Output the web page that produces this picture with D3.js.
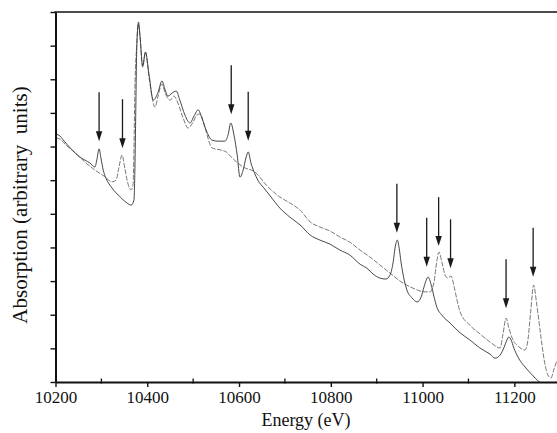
<!DOCTYPE html>
<html>
<head>
<meta charset="utf-8">
<script src="https://cdn.jsdelivr.net/npm/d3@7"></script>
<style>
  html, body { margin: 0; padding: 0; background: #fff; }
  svg { display: block; }
  text { font-family: "Liberation Serif", "DejaVu Serif", serif; fill: #111; }
</style>
</head>
<body>
<svg id="chart" width="557" height="433"></svg>
<script>
// ---- data ----
const energyA = [10201,10210,10219,10232,10253,10275,10286,10290,10295,10299,10304,10310,10323,10341,10356,10365,10371,10373,10375,10377,10381,10384,10390,10396,10404,10413,10423,10432,10439,10445,10454,10463,10471,10482,10493,10502,10511,10519,10530,10541,10554,10569,10576,10582,10589,10596,10602,10609,10615,10620,10626,10633,10641,10654,10668,10689,10711,10733,10755,10776,10798,10820,10841,10864,10879,10892,10907,10920,10929,10936,10940,10945,10949,10953,10960,10966,10977,10988,10997,11003,11008,11012,11019,11025,11031,11042,11060,11082,11103,11125,11147,11158,11169,11177,11184,11188,11193,11199,11208,11223,11239,11252,11267,11282,11293];
const absorptionA = [7.37,7.31,7.16,6.96,6.69,6.51,6.39,6.60,6.93,6.66,6.30,6.06,5.77,5.50,5.32,5.26,5.41,6.30,8.09,9.87,10.70,10.32,9.39,9.81,9.13,8.38,8.59,8.95,8.68,8.50,8.59,8.65,8.38,7.94,7.70,7.91,8.09,7.85,7.43,7.19,7.16,7.16,7.34,7.70,7.34,6.75,6.09,6.30,6.66,6.84,6.51,6.24,6.00,5.77,5.53,5.17,4.90,4.67,4.37,4.22,4.10,3.92,3.78,3.50,3.38,3.21,3.09,3.06,3.18,3.57,3.98,4.22,3.98,3.57,3.03,2.73,2.50,2.38,2.53,2.82,3.03,3.12,2.88,2.53,2.23,1.99,1.75,1.46,1.25,1.01,0.83,0.71,0.80,1.01,1.25,1.34,1.25,1.01,0.74,0.45,0.21,0.03,-0.09,-0.06,0.00];

const energyB = [10201,10210,10221,10243,10264,10286,10306,10323,10332,10338,10345,10351,10358,10365,10369,10371,10373,10377,10380,10384,10390,10396,10404,10417,10423,10432,10439,10450,10458,10467,10478,10489,10500,10508,10515,10526,10541,10559,10572,10585,10609,10635,10661,10689,10711,10733,10755,10776,10798,10820,10841,10864,10885,10907,10929,10951,10979,11005,11016,11025,11029,11036,11042,11049,11055,11062,11069,11075,11082,11103,11125,11147,11169,11175,11182,11188,11197,11208,11223,11229,11236,11242,11249,11258,11267,11273,11280,11286,11293];
const absorptionB = [7.25,7.22,7.07,6.81,6.54,6.30,6.12,5.95,6.00,6.36,6.75,6.36,5.89,5.71,5.86,6.90,8.68,10.02,10.64,10.29,9.36,9.81,9.04,8.17,8.47,8.86,8.59,8.38,8.50,8.29,7.85,7.55,7.73,7.94,7.97,7.55,6.96,6.90,6.84,6.66,6.39,6.24,5.83,5.50,5.32,5.11,4.76,4.61,4.49,4.31,4.16,3.92,3.72,3.48,3.24,3.00,2.79,2.68,2.68,2.97,3.39,3.86,3.57,3.18,3.09,3.15,2.82,2.44,2.08,1.69,1.43,1.19,1.01,1.40,1.90,1.61,1.25,1.07,0.95,1.19,2.14,2.88,2.29,1.34,0.51,0.21,0.12,0.36,0.65];

const arrowEnergy = [10295,10346,10583,10620,10944,11009,11035,11061,11182,11241];
const arrowTip    = [7.16,6.95,7.96,7.17,4.44,3.43,4.04,3.38,2.19,3.13];

const xTickValues = [10200,10400,10600,10800,11000,11200];
const xTickLabels = ["10200","10400","10600","10800","11000","11200"];
const xMinorValues = [10300,10500,10700,10900,11100];
const yTickValues = [0,1,2,3,4,5,6,7,8,9,10,11];

const xLabel = "Energy (eV)";
const yLabel = "Absorption (arbitrary  units)";

// ---- layout ----
const SERIF = "'Liberation Serif', 'DejaVu Serif', serif";
const svg = d3.select("#chart");
const L = 55.5, R = 557, T = 12, B = 382;

const x = d3.scaleLinear().domain([10200, 11293]).range([L, R]);
const y = d3.scaleLinear().domain([0, 11]).range([B, T]);

svg.append("defs").append("clipPath").attr("id", "plotclip")
  .append("rect").attr("x", L).attr("y", T).attr("width", R - L).attr("height", B - T);

// curves
const line = d3.line().x(d => x(d[0])).y(d => y(d[1])).curve(d3.curveMonotoneX);
const dataA = energyA.map((e, i) => [e, absorptionA[i]]);
const dataB = energyB.map((e, i) => [e, absorptionB[i]]);

const g = svg.append("g").attr("clip-path", "url(#plotclip)");
g.append("path").datum(dataB).attr("d", line)
  .attr("fill", "none").attr("stroke", "#6a6a6a").attr("stroke-width", 0.9)
  .attr("stroke-dasharray", "5,1.5");
g.append("path").datum(dataA).attr("d", line)
  .attr("fill", "none").attr("stroke", "#333").attr("stroke-width", 0.9);

// arrows
const arrowLen = 49, headLen = 10, headW = 3.2;
const ag = svg.append("g");
arrowEnergy.forEach((e, i) => {
  const ax = x(e), tip = y(arrowTip[i]);
  ag.append("line").attr("x1", ax).attr("x2", ax)
    .attr("y1", tip - arrowLen).attr("y2", tip - headLen + 1)
    .attr("stroke", "#1a1a1a").attr("stroke-width", 1.3);
  ag.append("path")
    .attr("d", `M${ax - headW},${tip - headLen} L${ax + headW},${tip - headLen} L${ax},${tip} Z`)
    .attr("fill", "#1a1a1a");
});

// axes
const xAxis = d3.axisBottom(x).tickValues(xTickValues)
  .tickFormat((d, i) => xTickLabels[i]).tickSizeInner(5).tickSizeOuter(0).tickPadding(4);
const gx = svg.append("g").attr("transform", `translate(0,${B})`).call(xAxis)
  .attr("font-family", SERIF).attr("font-size", 17);
gx.select(".domain").attr("stroke", "#111").attr("stroke-width", 2);
gx.selectAll(".tick line").attr("stroke", "#111").attr("stroke-width", 1.4);
gx.selectAll(".tick text").attr("fill", "#111").attr("font-family", SERIF)
  .attr("font-size", 17).style("font-family", SERIF);

// minor ticks (inward)
svg.append("g").selectAll("line").data(xMinorValues).join("line")
  .attr("x1", d => x(d)).attr("x2", d => x(d))
  .attr("y1", B - 3.5).attr("y2", B + 1.5)
  .attr("stroke", "#111").attr("stroke-width", 1.3);

const yAxis = d3.axisLeft(y).tickValues(yTickValues).tickFormat("")
  .tickSizeInner(5).tickSizeOuter(0);
const gy = svg.append("g").attr("transform", `translate(${L},0)`).call(yAxis);
gy.select(".domain").attr("stroke", "#111").attr("stroke-width", 2);
gy.selectAll(".tick line").attr("stroke", "#111").attr("stroke-width", 1.4);

// top frame line
svg.append("line").attr("x1", L - 1).attr("x2", R).attr("y1", T).attr("y2", T)
  .attr("stroke", "#111").attr("stroke-width", 1.5);

// labels
svg.append("text").attr("x", 306).attr("y", 426).attr("text-anchor", "middle")
  .attr("font-size", 18).style("font-family", SERIF).text(xLabel);
svg.append("text")
  .attr("transform", `translate(27,${(T + B) / 2 + 8}) rotate(-90)`)
  .attr("text-anchor", "middle").attr("font-size", 21)
  .style("font-family", SERIF).style("white-space", "pre").text(yLabel);
</script>
</body>
</html>
